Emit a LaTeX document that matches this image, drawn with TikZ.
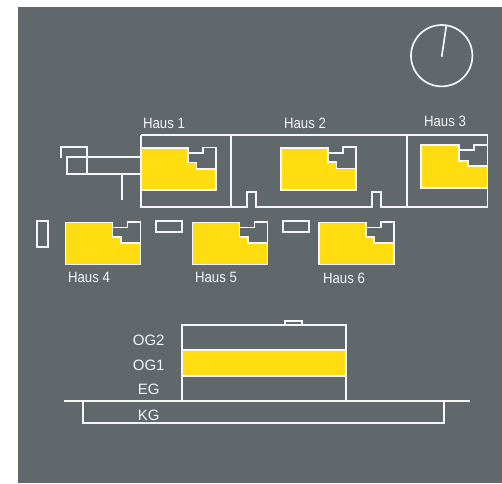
\documentclass[tikz,border=0pt]{standalone}
\usepackage{fontspec}
\setmainfont{Liberation Sans}
\definecolor{bggray}{HTML}{60686C}
\definecolor{wingyellow}{HTML}{FFDD11}
\definecolor{linewhite}{HTML}{F6F6F6}
\tikzset{
  plan/.style={draw=linewhite,line width=1.7pt,line join=miter},
  wing/.style={plan,fill=wingyellow},
  lbl/.style={text=linewhite,font=\fontsize{15}{17}\selectfont,inner sep=0pt,xscale=.88,transform shape},
  floorlbl/.style={text=linewhite,font=\fontsize{15}{17}\selectfont,inner sep=0pt},
  pics/wingshape/.style={code={
    \filldraw[wing] (0,0) -- (47,0) -- (47,14.5) -- (55.5,14.5) -- (55.5,20.7) -- (75,20.7) -- (75,42) -- (0,42) -- cycle;
    \draw[plan] (47,5) -- (62,5) -- (62,-0.5) -- (75,-0.5) -- (75,20.7);
  }}
}
\begin{document}
\begin{tikzpicture}[x=1pt,y=-1pt]
\useasboundingbox (0,0) rectangle (502,483);
\fill[white] (0,0) rectangle (502,483);
\fill[bggray] (18,7) rectangle (502,483);
% clock
\draw[plan] (441.7,55.7) circle[radius=30.7];
\draw[plan] (441.7,56.7) -- (446.3,25.7);
% upper block outline
\draw[plan] (141,135.3) -- (487.5,135.3) -- (487.5,207);
\draw[plan] (141,135.3) -- (141,207) -- (247.3,207) -- (247.3,192) -- (256,192) -- (256,207) -- (372.3,207) -- (372.3,192) -- (380.7,192) -- (380.7,207) -- (487.5,207);
\draw[plan] (231,135.3) -- (231,207);
\draw[plan] (406.7,135.3) -- (406.7,207);
% left annexe
\draw[plan] (60.7,157.5) -- (60.7,147.3) -- (87,147.3) -- (87,173.7);
\draw[plan] (141,157.3) -- (67.3,157.3) -- (67.3,173.7) -- (141,173.7);
\draw[plan] (122.3,173.7) -- (122.3,200);
% yellow wings
\pic at (141,148) {wingshape};
\pic at (281,147.7) {wingshape};
\pic at (65.5,222.5) {wingshape};
\pic at (192.5,222.5) {wingshape};
\pic at (318.7,222.5) {wingshape};
% Haus 3, cut off at the right
\filldraw[wing] (421.3,145) -- (459,145) -- (459,160.7) -- (467.7,160.7) -- (467.7,166.3) -- (487.5,166.3) -- (487.5,187.7) -- (421.3,187.7) -- cycle;
\draw[plan] (459,150) -- (474,150) -- (474,145) -- (487.5,145);
% small rectangles
\draw[plan] (37,221) rectangle (48.3,247);
\draw[plan] (155.7,221) rectangle (181.7,232.3);
\draw[plan] (282.7,221) rectangle (309,232.3);
% section
\fill[wingyellow] (181.7,350.3) rectangle (345.7,375.7);
\draw[plan] (181.7,400.7) -- (181.7,325.3) -- (345.7,325.3) -- (345.7,400.7);
\draw[plan] (181.7,350.3) -- (345.7,350.3);
\draw[plan] (181.7,375.7) -- (345.7,375.7);
\draw[plan] (285.3,325.3) -- (285.3,320.7) -- (302.3,320.7) -- (302.3,325.3);
\draw[plan] (64.3,400.7) -- (469.7,400.7);
\draw[plan] (83.3,400.7) -- (83.3,423.3) -- (443.7,423.3) -- (443.7,400.7);
% labels
\node[lbl] (h1) at (164,123.5) {Haus 1};
\node[lbl] (h2) at (305,123) {Haus 2};
\node[lbl] (h3) at (445,121) {Haus 3};
\node[lbl] (h4) at (89,277) {Haus 4};
\node[lbl] (h5) at (216,277) {Haus 5};
\node[lbl] (h6) at (344,278) {Haus 6};
\node[floorlbl] (og2) at (148.7,340) {OG2};
\node[floorlbl] (og1) at (148.7,365) {OG1};
\node[floorlbl] (eg) at (148.7,389.7) {EG};
\node[floorlbl] (kg) at (148.7,415) {KG};
\end{tikzpicture}
\end{document}
